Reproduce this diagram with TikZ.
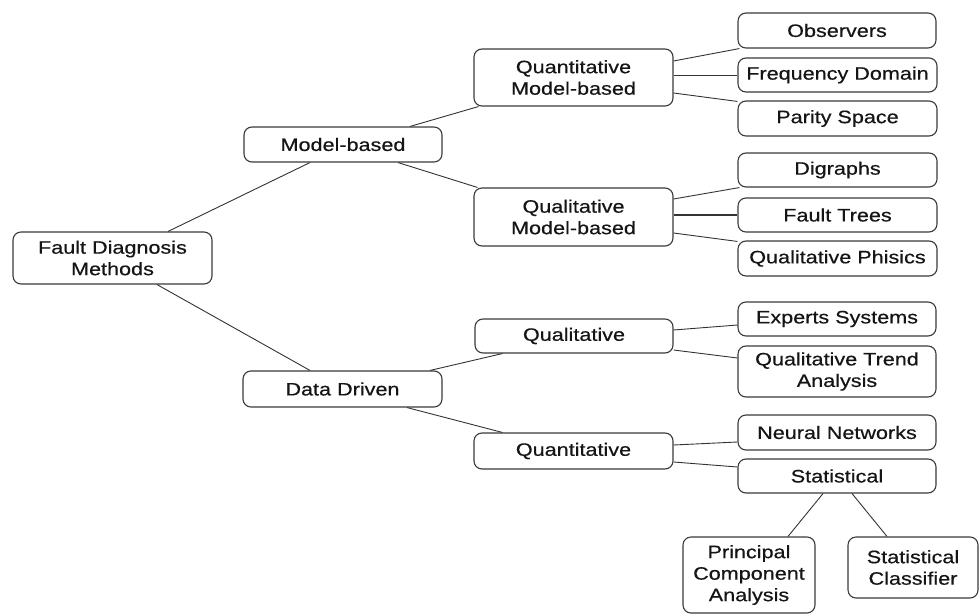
\documentclass[tikz,border=0pt]{standalone}
\usepackage{fontspec}
\setmainfont{Liberation Sans}[FakeStretch=1.2, FakeBold=0.5]
\usetikzlibrary{calc}
\definecolor{boxline}{HTML}{3A3A3A}
\definecolor{conn}{HTML}{333333}
\definecolor{txt}{HTML}{151515}
\tikzset{
  box/.style={draw=boxline, line width=1.1pt, rounded corners=8pt, fill=white,
    align=center, inner sep=0pt, text=txt,
    font=\fontsize{18}{21.5}\selectfont},
  link/.style={draw=conn, line width=0.9pt}
}
\begin{document}
\begin{tikzpicture}[x=1pt, y=-1pt]
\useasboundingbox (0,0) rectangle (979,615);
% level 0/1
\node[box, minimum width=199pt, minimum height=52pt] (fdm) at (112.5,258) {Fault Diagnosis\\Methods};
\node[box, minimum width=198pt, minimum height=35pt] (mb) at (343,144.5) {Model-based};
\node[box, minimum width=199pt, minimum height=36pt] (dd) at (342.5,389) {Data Driven};
% level 2
\node[box, minimum width=199pt, minimum height=57pt] (qnmb) at (573.5,77.5) {Quantitative\\Model-based};
\node[box, minimum width=199pt, minimum height=58pt] (qlmb) at (573.5,217) {Qualitative\\Model-based};
\node[box, minimum width=198pt, minimum height=34pt] (ql) at (574,336) {Qualitative};
\node[box, minimum width=199pt, minimum height=36pt] (qn) at (573.5,451) {Quantitative};
% level 3
\node[box, minimum width=198pt, minimum height=35pt] (obs) at (837,30.5) {Observers};
\node[box, minimum width=199pt, minimum height=34pt] (fd) at (837.5,75) {Frequency Domain};
\node[box, minimum width=199pt, minimum height=35pt] (ps) at (837.5,118.5) {Parity Space};
\node[box, minimum width=199pt, minimum height=34pt] (dig) at (837.5,170) {Digraphs};
\node[box, minimum width=199pt, minimum height=34pt] (ft) at (837.5,215) {Fault Trees};
\node[box, minimum width=199pt, minimum height=35pt] (qp) at (837.5,258.5) {Qualitative Phisics};
\node[box, minimum width=198pt, minimum height=34pt] (es) at (837,319) {Experts Systems};
\node[box, minimum width=198pt, minimum height=51pt] (qta) at (837,371.5) {Qualitative Trend\\Analysis};
\node[box, minimum width=198pt, minimum height=35pt] (nn) at (837,432.5) {Neural Networks};
\node[box, minimum width=198pt, minimum height=34pt] (st) at (837,476) {Statistical};
% level 4
\node[box, minimum width=132pt, minimum height=76pt] (pca) at (749,575) {Principal\\Component\\Analysis};
\node[box, minimum width=130pt, minimum height=61pt] (sc) at (913,567.5) {Statistical\\Classifier};
% connectors
\draw[link] ([xshift=55.5pt]fdm.north) -- ([xshift=-33pt]mb.south);
\draw[link] ([xshift=44.5pt]fdm.south) -- ([xshift=-32.5pt]dd.north);
\draw[link] ([xshift=67pt]mb.north) -- ([xshift=5pt]qnmb.south west);
\draw[link] ([xshift=55pt]mb.south) -- ([xshift=4pt]qlmb.north west);
\draw[link] ([yshift=16.5pt]qnmb.east) -- ([xshift=2pt]obs.south west);
\draw[link] ([yshift=2.5pt]qnmb.east) -- (fd.west);
\draw[link] ([yshift=-15.5pt]qnmb.east) -- ([yshift=-1pt]ps.north west);
\draw[link] ([yshift=18pt]qlmb.east) -- ([xshift=2pt]dig.south west);
\draw[link, line width=1.4pt] ([yshift=2pt]qlmb.east) -- (ft.west);
\draw[link] ([yshift=-16pt]qlmb.east) -- ([yshift=-1pt]qp.north west);
\draw[link] ([xshift=87.5pt]dd.north) -- ([xshift=28pt]ql.south west);
\draw[link] ([xshift=64.5pt]dd.south) -- ([xshift=29pt]qn.north west);
\draw[link] ([yshift=6pt]ql.east) -- ([yshift=-6pt]es.west);
\draw[link] ([yshift=-14pt]ql.east) -- ([yshift=13.5pt]qta.west);
\draw[link] ([yshift=6pt]qn.east) -- ([yshift=-9.5pt]nn.west);
\draw[link] ([yshift=-11pt]qn.east) -- ([yshift=9pt]st.west);
\draw[link] ([xshift=-14pt]st.south) -- ([xshift=39pt]pca.north);
\draw[link] ([xshift=15pt]st.south) -- ([xshift=-26pt]sc.north);
\end{tikzpicture}
\end{document}
